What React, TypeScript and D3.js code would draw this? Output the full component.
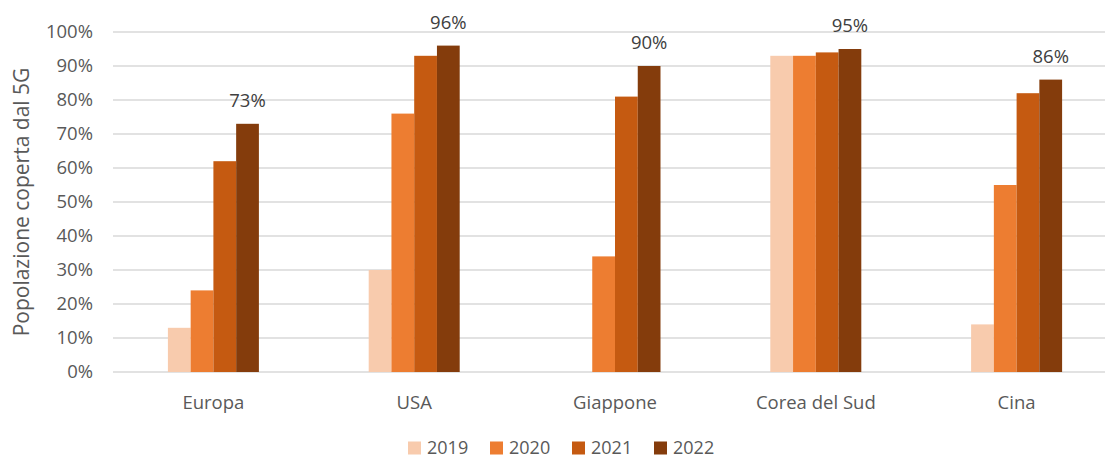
import React from "react";
import * as d3 from "d3";

const categories = ["Europa", "USA", "Giappone", "Corea del Sud", "Cina"];
const years = ["2019", "2020", "2021", "2022"];
const v2019 = [0.13, 0.30, null, 0.93, 0.14];
const v2020 = [0.24, 0.76, 0.34, 0.93, 0.55];
const v2021 = [0.62, 0.93, 0.81, 0.94, 0.82];
const v2022 = [0.73, 0.96, 0.90, 0.95, 0.86];
const series = [v2019, v2020, v2021, v2022];
const colors = ["#F8CBAD", "#ED7D31", "#C55A11", "#843C0C"];
const yTicks = [0, 0.1, 0.2, 0.3, 0.4, 0.5, 0.6, 0.7, 0.8, 0.9, 1.0];

const W = 1105;
const H = 460;
const FONT = "'Open Sans', 'DejaVu Sans', sans-serif";
const TXT = "#595959";
const FS = 18.5;

export default function App() {
  const left = 113;
  const right = 1117;
  const top = 32;
  const bottom = 372;
  const x = d3.scaleBand<string>().domain(categories).range([left, right]).padding(0);
  const y = d3.scaleLinear().domain([0, 1]).range([bottom, top]);
  const barW = 22.75;
  const inner = d3
    .scaleBand<string>()
    .domain(years)
    .range([-barW * 2, barW * 2])
    .padding(0);
  const fmt = d3.format(".0%");

  return (
    <svg width={W} height={H} style={{ display: "block", position: "absolute", left: 0, top: 0 }}>
      <rect width={W} height={H} fill="#fff" />
      {yTicks.map((t) => (
        <g key={t}>
          <line x1={left} x2={W} y1={y(t)} y2={y(t)} stroke="#D9D9D9" strokeWidth={1.3} />
          <text x={left - 20} y={y(t)} dy="0.35em" textAnchor="end" fontFamily={FONT} fontSize={FS} fill={TXT}>
            {fmt(t)}
          </text>
        </g>
      ))}
      {categories.map((c, ci) => {
        const cx = (x(c) ?? 0) + x.bandwidth() / 2;
        return (
          <g key={c}>
            {series.map((s, si) => {
              const v = s[ci];
              if (v == null) return null;
              const bx = cx + (inner(years[si]) ?? 0);
              return (
                <rect key={si} x={bx} y={y(v)} width={inner.bandwidth()} height={bottom - y(v)} fill={colors[si]} />
              );
            })}
            <text
              x={cx + (inner("2022") ?? 0) + inner.bandwidth() / 2}
              y={y(v2022[ci]) - 17}
              textAnchor="middle"
              fontFamily={FONT}
              fontSize={FS}
              fill="#404040"
            >
              {fmt(v2022[ci])}
            </text>
            <text x={cx} y={409} textAnchor="middle" fontFamily={FONT} fontSize={FS} fill={TXT}>
              {c}
            </text>
          </g>
        );
      })}
      <text
        transform={`translate(29,${(top + bottom) / 2}) rotate(-90)`}
        textAnchor="middle"
        fontFamily={FONT}
        fontSize={21}
        fill={TXT}
      >
        Popolazione coperta dal 5G
      </text>
      {years.map((yr, i) => (
        <g key={yr} transform={`translate(${408 + i * 82},448)`}>
          <rect x={0} y={-6.5} width={13} height={13} fill={colors[i]} />
          <text x={19} y={0} dy="0.35em" fontFamily={FONT} fontSize={18} fill={TXT}>
            {yr}
          </text>
        </g>
      ))}
    </svg>
  );
}
